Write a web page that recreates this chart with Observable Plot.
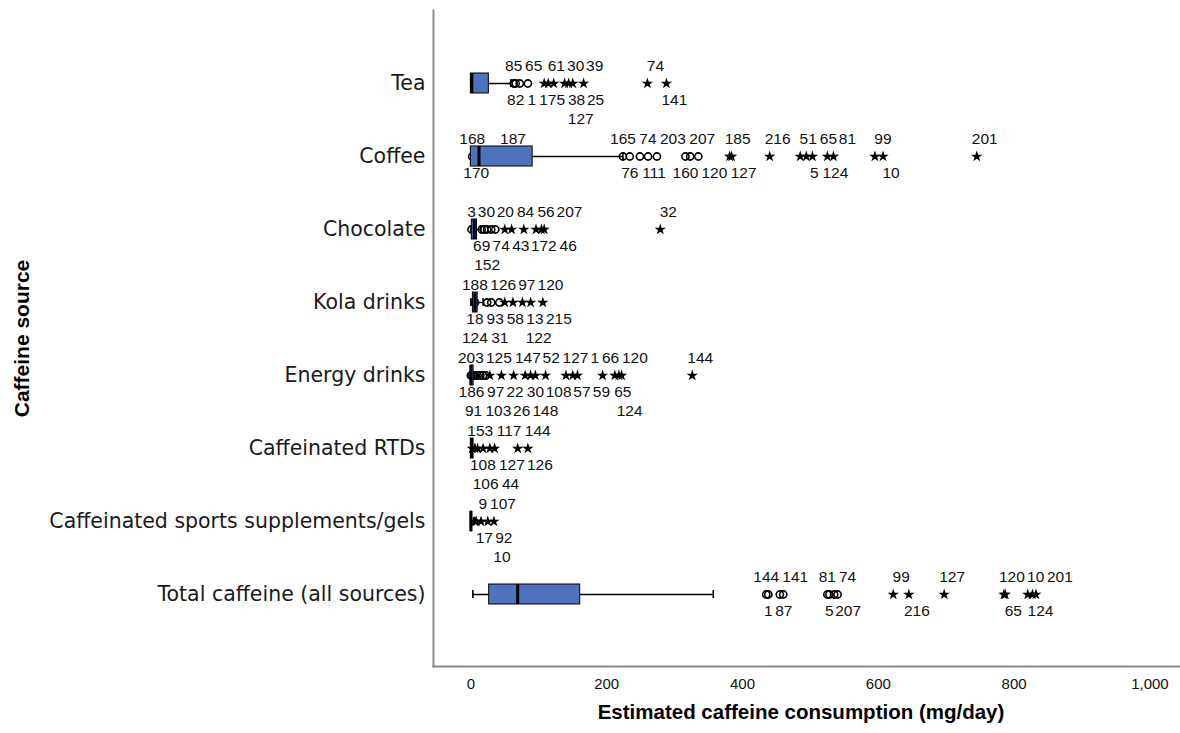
<!DOCTYPE html>
<html><head><meta charset="utf-8">
<script src="https://cdn.jsdelivr.net/npm/d3@7"></script>
<script src="https://cdn.jsdelivr.net/npm/@observablehq/plot@0.6"></script>
<style>
body{margin:0;background:#fff;}
#chart{width:1180px;height:733px;}
</style></head><body><div id="chart"></div>
<script>
// ---- data ----
const categories = ["Tea","Coffee","Chocolate","Kola drinks","Energy drinks","Caffeinated RTDs","Caffeinated sports supplements/gels","Total caffeine (all sources)"];
const whiskerLow  = [0, 0, 0,   0,  0, 0, 0, 3];
const q1          = [0, 0, 1.5, 3,  0, 0, 0, 27];
const medians     = [1.5, 12, 5, 6, 0, 1, 0, 69];
const q3          = [26.5, 91, 9, 10, 4, 4, 2, 161];
const whiskerHigh = [59, 224, 14, 18, 8, 6, 4, 357];

const outlierIds = [
  [85,82,65,1,175,61,30,38,39,127,25,74,141],
  [168,170,187,165,76,74,111,203,160,207,120,185,127,216,51,5,65,124,81,99,10,201],
  [3,69,30,152,74,20,43,84,172,56,207,46,32],
  [188,18,124,93,126,58,97,13,120,122,215],
  [203,186,91,125,97,103,22,31,147,30,26,52,108,148,127,57,1,59,66,65,120,124,144],
  [153,108,106,117,127,44,144,126],
  [9,17,107,92,10],
  [144,1,87,141,81,5,207,74,99,216,127,120,65,10,124,201]
];
const outlierValues = [
  [63,66,72,84,108,114,122,138,144,150,166,260,288],
  [2,8,62,224,234,249,261,274,316,323,335,381,384,440,485,494,503,525,534,595,607,745],
  [1,16,20,24,30,36,50,60,78,96,104,108,279],
  [6,6,6,24,30,42,50,62,76,88,106],
  [0,1,4,6,10,14,18,22,28,45,63,80,88,95,110,140,150,157,194,212,218,222,326],
  [2,6,10,18,28,35,69,84],
  [6,8,15,25,34],
  [435,438,455,460,525,528,535,540,622,645,697,785,787,820,827,832]
];
const outlierKinds = [
  "oooo*********",
  "ooooooooooo***********",
  "oooooo*******",
  "oooooo*****",
  "oooooooo***************",
  "********",
  "*****",
  "oooooooo********"
];
const xTicks = [0, 200, 400, 600, 800, 1000];

// ---- layout ----
const W = 1180, H = 733, mL = 433, mR = 0, mT = 10, mB = 67;
const xMin = -55, xMax = 1045;
const pxPerUnit = (W - mL - mR) / (xMax - xMin);
const px = v => mL + (v - xMin) * pxPerUnit;
const pIn = 0.73, pOut = 0.8;
const step = (H - mT - mB) / (categories.length - pIn + 2 * pOut);
const catCenter = i => mT + pOut * step + (1 - pIn) * step / 2 + i * step;

const boxes = categories.map((c, i) => ({cat: c, lo: whiskerLow[i], q1: q1[i], med: medians[i], q3: q3[i], hi: whiskerHigh[i]}));
const outliers = categories.flatMap((c, i) => outlierIds[i].map((id, j) => ({
  cat: c, ci: i, id: String(id), value: outlierValues[i][j], kind: outlierKinds[i][j]
})));

// ---- label placement: greedy search over rows and small horizontal shifts ----
const lanes = [
  {k: -1, dy: -17, cost: 0}, {k: 1, dy: 17, cost: 0.5},
  {k: 0, dy: 0, cost: 3}, {k: 2, dy: 36, cost: 3}, {k: -2, dy: -37, cost: 3.5},
  {k: -3, dy: -54, cost: 6}, {k: 3, dy: 54, cost: 6.5}
];
const charW = 8.6, labelH = 12;
const obstacles = [];
boxes.forEach((b, i) => {
  const c = catCenter(i);
  obstacles.push({l: px(b.q1) - 1, r: px(b.q3) + 1, t: c - 10, b: c + 10});
  obstacles.push({l: px(b.lo) - 1, r: px(b.hi) + 1, t: c - 4, b: c + 4});
});
outliers.forEach(o => {
  const c = catCenter(o.ci), x = px(o.value);
  obstacles.push({l: x - 5, r: x + 5, t: c - 5, b: c + 5});
});
const shifts = [];
for (let s = 0; s <= 44; s += 2) { shifts.push(s); if (s) shifts.push(-s); }
const sorted = outliers.slice().sort((a, b) => a.ci - b.ci || a.value - b.value);
for (const o of sorted) {
  const base = px(o.value) + (o.kind === "*" ? 8 : 0);
  const w = o.id.length * charW;
  let best = null;
  for (const lane of lanes) for (const s of shifts) {
    const cost = lane.cost + Math.abs(s) * 0.15;
    if (best && cost >= best.cost) continue;
    const cx = base + s, cy = catCenter(o.ci) + lane.dy;
    const rect = {l: cx - w / 2, r: cx + w / 2, t: cy - labelH / 2, b: cy + labelH / 2};
    const free = obstacles.every(p => rect.r + 1.5 <= p.l || rect.l >= p.r + 1.5 || rect.b <= p.t || rect.t >= p.b);
    if (free) best = {cost, lane, cx, rect};
  }
  if (!best) best = {lane: lanes[6], cx: base, rect: {l: 0, r: 0, t: 0, b: 0}};
  obstacles.push(best.rect);
  o.lane = best.lane.k;
  o.labelValue = xMin + (best.cx - mL) / pxPerUnit;
}

const labelFont = "'Liberation Sans', Arial, sans-serif";
const textMarks = lanes.map(lane => Plot.text(outliers.filter(o => o.lane === lane.k), {
  x: "labelValue", y: "cat", text: "id", dy: lane.dy,
  fontSize: 15.5, fontFamily: labelFont, fill: "#111"
}));

const chart = Plot.plot({
  width: W, height: H,
  marginLeft: mL, marginRight: mR, marginTop: mT, marginBottom: mB,
  style: {background: "#fff", overflow: "visible"},
  x: {domain: [xMin, xMax]},
  y: {type: "band", domain: categories, paddingInner: pIn, paddingOuter: pOut, align: 0.5},
  marks: [
    Plot.frame({anchor: "left", stroke: "#8c8c8c", strokeWidth: 2}),
    Plot.frame({anchor: "bottom", stroke: "#8c8c8c", strokeWidth: 2}),
    Plot.axisX({ticks: xTicks, tickFormat: d3.format(","), tickSize: 0, tickPadding: 12,
      fontSize: 15, fontFamily: labelFont, label: null, fill: "#111"}),
    Plot.axisY({tickSize: 0, tickPadding: 8, fontSize: 20.5, fontFamily: "'DejaVu Sans', sans-serif",
      label: null, fill: "#1a1a1a"}),
    Plot.text(["Estimated caffeine consumption (mg/day)"], {frameAnchor: "bottom", dy: 52, dx: -6,
      fontSize: 20.5, fontWeight: "bold", fontFamily: labelFont, fill: "#000"}),
    Plot.text(["Caffeine source"], {frameAnchor: "left", dx: -411, rotate: -90, textAnchor: "middle",
      fontSize: 21, fontWeight: "bold", fontFamily: labelFont, fill: "#000"}),
    // outliers
    Plot.dot(outliers.filter(o => o.kind === "o"), {x: "value", y: "cat", r: 3.6, stroke: "#000", strokeWidth: 1.6, fill: "none"}),
    Plot.dot(outliers.filter(o => o.kind === "*"), {x: "value", y: "cat", r: 3.6, symbol: "star", fill: "#000", stroke: "none"}),
    // whiskers
    Plot.ruleY(boxes, {y: "cat", x1: "lo", x2: "hi", stroke: "#000", strokeWidth: 1.3}),
    Plot.tickX(boxes, {y: "cat", x: "lo", stroke: "#000", strokeWidth: 1.6, insetTop: 6, insetBottom: 6}),
    Plot.tickX(boxes, {y: "cat", x: "hi", stroke: "#000", strokeWidth: 1.6, insetTop: 6, insetBottom: 6}),
    // boxes
    Plot.barX(boxes, {y: "cat", x1: "q1", x2: "q3", fill: "#4f72be", stroke: "#000", strokeWidth: 1}),
    Plot.tickX(boxes, {y: "cat", x: "med", stroke: "#000", strokeWidth: 3}),
    ...textMarks
  ]
});
document.getElementById("chart").appendChild(chart);
</script></body></html>
